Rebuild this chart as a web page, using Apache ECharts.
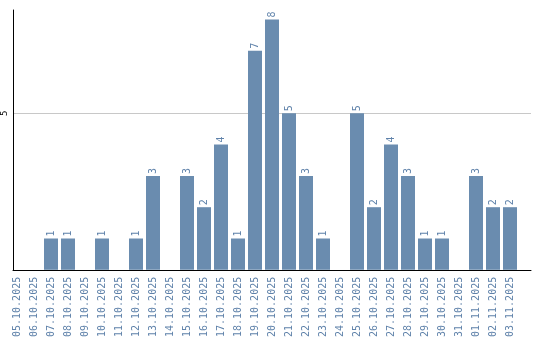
<!DOCTYPE html>
<html>
<head>
<meta charset="utf-8">
<script src="https://cdn.jsdelivr.net/npm/echarts@6/dist/echarts.min.js"></script>
<style>
html,body{margin:0;padding:0;background:#fff;}
#c{width:540px;height:340px;}
</style>
</head>
<body>
<div id="c"></div>
<script>
const categories = ['05.10.2025','06.10.2025','07.10.2025','08.10.2025','09.10.2025','10.10.2025','11.10.2025','12.10.2025','13.10.2025','14.10.2025','15.10.2025','16.10.2025','17.10.2025','18.10.2025','19.10.2025','20.10.2025','21.10.2025','22.10.2025','23.10.2025','24.10.2025','25.10.2025','26.10.2025','27.10.2025','28.10.2025','29.10.2025','30.10.2025','31.10.2025','01.11.2025','02.11.2025','03.11.2025'];
const values = [0,0,1,1,0,1,0,1,3,0,3,2,4,1,7,8,5,3,1,0,5,2,4,3,1,1,0,3,2,2];
const yTicks = [0,5];

const font = 'DejaVu Sans Mono';
const blue = '#6a8caf';
const textBlue = '#5f82aa';

const chart = echarts.init(document.getElementById('c'), null, {renderer:'canvas'});
chart.setOption({
  animation:false,
  grid:[
    {left:8.5, width:510, top:10, bottom:70},
    {left:11, width:520, top:10, bottom:70}
  ],
  xAxis:[
    {type:'category', gridIndex:0, data:categories,
     axisLine:{show:false}, axisTick:{show:false},
     axisLabel:{rotate:90, margin:7, color:textBlue, fontFamily:font, fontSize:10, interval:0}},
    {type:'value', gridIndex:1, min:0, max:1,
     axisLine:{show:true, onZero:false, lineStyle:{color:'#000', width:1}},
     axisTick:{show:false}, axisLabel:{show:false}, splitLine:{show:false}}
  ],
  yAxis:[
    {type:'value', gridIndex:0, min:0, max:8.3, show:false, splitLine:{show:false}},
    {type:'value', gridIndex:1, min:0, max:8.3, interval:5,
     axisLine:{show:true, onZero:false, lineStyle:{color:'#000', width:1}},
     axisTick:{show:false},
     axisLabel:{rotate:90, margin:4, color:'#000', fontFamily:font, fontSize:9,
       showMinLabel:false, showMaxLabel:false,
       formatter: v => yTicks.indexOf(v) >= 0 && v !== 0 ? String(v) : ''},
     splitLine:{show:true, lineStyle:{color:['transparent','#c8c8c8','transparent'], width:1}}}
  ],
  series:[{
    type:'bar', xAxisIndex:0, yAxisIndex:0, data:values,
    barWidth:14,
    itemStyle:{color:blue},
    label:{show:true, position:'top', rotate:90, align:'left', verticalAlign:'middle',
      distance:2, color:textBlue, fontFamily:font, fontSize:10,
      formatter: p => p.value ? String(p.value) : ''}
  }]
});
</script>
</body>
</html>
